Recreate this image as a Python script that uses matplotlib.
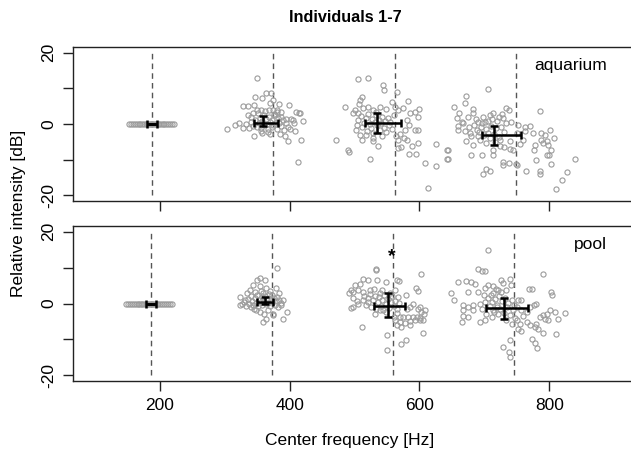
import matplotlib.pyplot as plt
import numpy as np

plt.rcParams['font.family'] = ['Liberation Sans', 'DejaVu Sans']

# ---- aquarium (top panel) ----
aq_harm = [187, 374.5, 562, 749.5]

aq_f1 = [152, 155, 159, 162, 165, 168, 170, 173, 175, 178, 180, 182, 184, 186,
         188, 190, 192, 194, 197, 199, 201, 204, 206, 209, 212, 215, 218, 221]

aq_f2 = [349, 346, 358, 364, 371, 375, 369, 384, 399, 328, 336, 345, 350, 355, 368,
         381, 387, 410, 415, 335, 344, 377, 387, 395, 402, 405, 421, 416, 407, 316,
         304, 328, 345, 358, 367, 385, 393, 397, 418, 413,
         340, 343, 347, 350, 352, 354, 356, 358, 360, 361, 363, 365, 366, 368, 370,
         372, 373, 375, 376, 378, 380, 382, 384, 386, 389, 391, 394, 398, 333, 337,
         341, 351, 362, 374, 370, 380, 355, 400, 408, 322]
aq_db2 = [13.0, 7.5, 7.2, 8.6, 8.6, 6.6, 5.9, 5.6, 5.4, 5.0, 5.0, 5.4, 4.0, 4.0, 4.0,
          4.0, 3.5, 3.5, 3.0, 2.6, 3.1, 2.6, 2.1, 1.4, 1.4, 1.0, 0.8, 3.2, 0.3, -0.4,
          -1.5, -1.1, -3.5, -2.5, -2.2, -2.7, -3.3, -4.7, -4.4, -10.6,
          0.5, -0.5, 1.2, -0.8, 0.2, 1.8, -1.2, 0.9, 2.5, -0.3, 1.4, 0.0, -1.5, 2.0, 0.6,
          -0.9, 1.1, -0.2, 2.8, 0.4, -1.3, 1.6, 0.2, -0.6, 1.0, -1.6, 0.3, -0.8, 0.1, -1.2,
          1.9, 3.0, 3.6, 3.8, -2.9, 3.3, -2.0, -1.5, -1.9, 0.4]

aq_f3 = [505, 520, 544, 546, 566, 511, 508, 485, 507, 500, 497, 513, 521, 529, 539,
         548, 557, 562, 567, 574, 582, 585, 593, 600, 598, 580, 584, 593, 598, 578,
         570, 576, 567, 572, 567, 580, 589, 597, 584, 595, 564, 503, 502, 508, 512,
         529, 536, 528, 524, 490, 491, 471, 608, 625, 625, 642, 644, 613,
         506, 510, 512, 515, 517, 519, 521, 523, 525, 527, 529, 531, 533, 535, 537,
         539, 541, 543, 545, 547, 549, 551, 553, 555, 558, 561, 505, 517, 543, 533]
aq_db3 = [12.6, 12.8, 11.0, 9.6, 9.0, 7.7, 6.8, 4.7, 5.7, 4.0, 3.2, 4.5, 4.9, 4.0, 4.7,
          4.2, 6.3, 4.9, 4.0, 4.5, 6.5, 3.1, 3.5, 4.2, 2.1, 1.2, -0.2, -1.6, -1.8, -1.6,
          -2.7, -3.9, -4.4, -6.4, -6.7, -4.4, -6.1, -5.3, -8.3, -8.3, -3.3, -0.2, -1.6, -3.0, -4.4,
          -3.9, -6.1, -4.8, -9.9, -7.2, -7.9, -4.6, -10.9, -11.8, -5.5, -9.7, -7.4, -17.9,
          1.0, 2.2, -0.8, 0.4, 1.8, -1.9, 2.8, 0.0, -1.0, 1.5, -2.6, 0.6, 2.4, -0.4, 1.2,
          -1.8, 0.2, 2.0, -1.1, 0.9, -2.2, 1.6, -0.3, 0.7, -1.4, 2.6, 3.0, -3.2, -3.5, 3.5]

aq_f4 = [705, 671, 670, 653, 683, 682, 661, 658, 675, 667, 660, 660, 670, 678, 680,
         672, 683, 690, 696, 701, 708, 714, 723, 733, 738, 734, 741, 752, 762, 770,
         775, 787, 793, 801, 807, 785, 787, 796, 798, 791, 778, 777, 780, 800, 797,
         803, 803, 785, 786, 764, 828, 819, 811, 839, 748, 744, 739, 731, 724, 714,
         714, 696, 680, 642, 644, 729, 728, 738, 750, 708, 702, 698, 665, 688, 690,
         703, 706, 724, 740, 755, 759, 762, 750,
         684, 687, 692, 695, 698, 700, 703, 705, 708, 710, 712, 715, 718, 720, 722,
         726, 729, 731, 716, 694, 727, 676]
aq_db4 = [9.8, 7.9, 5.8, 4.7, 4.2, 3.1, 3.1, 1.7, 1.9, 0.3, -0.7, -1.6, -2.1, -2.5, -3.4,
          -4.8, -5.8, 0.7, 0.3, 0.7, 2.6, 3.1, 2.1, 4.5, 4.0, 0.3, 0.5, -0.2, -0.8, -0.7,
          -2.5, -2.5, -3.0, -1.6, -3.9, 3.7, -4.4, -4.8, -5.8, -5.3, -5.8, -7.4, -10.0, -8.6, -8.6,
          -7.4, -11.1, -13.2, -13.9, -13.2, -13.5, -15.7, -18.1, -9.7, -11.1, -7.4, -7.0, -6.5, -6.2, -7.2,
          -8.6, -8.6, -8.6, -7.4, -9.7, -10.7, -11.6, -10.9, -11.4, -13.2, -12.7, -14.0, 0.7, -1.6, -3.4,
          -5.3, -2.5, -4.4, -4.8, -5.5, -4.4, -2.0, -2.5,
          -0.4, 1.5, -2.3, -0.9, 1.9, -3.1, -1.5, 0.9, -4.0, -0.6, 1.3, -2.8, -1.2, 0.8, -3.6,
          -0.9, 1.6, -2.2, -5.0, -4.6, 2.9, -0.9]

aq_mean_f = [187, 359, 535, 715]
aq_mean_db = [0, 0.4, 0.2, -3.0]
aq_f_lo = [179.5, 345, 516, 696]
aq_f_hi = [196, 382, 571, 757]
aq_db_lo = [0, -0.7, -2.5, -6.0]
aq_db_hi = [0, 2.3, 3.1, -0.5]

# ---- pool (bottom panel) ----
pl_harm = [186.5, 373, 559.5, 746]

pl_f1 = [147, 150, 154, 157, 160, 163, 166, 168, 171, 173, 175, 178, 180, 182,
         184, 186, 188, 190, 193, 195, 197, 200, 203, 206, 209, 212, 215, 219]

pl_f2 = [381, 362, 354, 349, 344, 354, 364, 379, 339, 334, 346, 359, 370, 323, 331,
         327, 323, 341, 348, 354, 364, 359, 374, 375, 390, 396, 384, 387, 382, 389,
         372, 380,
         329, 333, 336, 338, 340, 342, 344, 346, 348, 350, 351, 353, 355, 357, 358,
         360, 362, 363, 365, 367, 368, 370, 371, 373, 376, 377, 379, 383, 386, 366,
         356, 345, 361]
pl_db2 = [10.0, 6.5, 7.0, 6.5, 5.1, 4.8, 4.4, 4.4, 3.7, 2.9, 3.2, 2.8, 3.5, 1.8, 0.9,
          -0.2, -0.5, -1.0, -1.7, -2.3, -4.2, -5.1, -2.8, -3.3, -4.2, -2.3, 0.9, 0.2, -1.1, 1.1,
          2.3, 1.8,
          0.3, -0.6, 1.2, 0.0, 2.0, 0.6, -0.4, 1.5, 0.2, 2.4, -0.8, 1.0, 0.3, 1.8, -0.5,
          0.8, 2.1, -0.2, 1.3, 0.1, 2.6, -0.7, 1.0, 0.4, 1.6, -0.4, 0.6, 2.8, -0.5, -1.8,
          3.6, -1.6, -3.0]

pl_f3 = [533, 533, 565, 569, 549, 534, 521, 513, 500, 508, 495, 492, 498, 506, 513,
         524, 530, 542, 539, 562, 567, 594, 598, 602, 579, 497, 503, 506, 513, 521,
         497, 495, 539, 544, 549, 565, 560, 570, 575, 583, 590, 596, 601, 562, 570,
         578, 585, 593, 601, 606, 565, 572, 585, 598, 603, 607, 608, 601, 590, 585,
         580, 511, 550, 550, 572, 579, 606,
         515, 518, 520, 523, 526, 528, 531, 533, 536, 538, 541, 543, 546, 548, 551,
         553, 556, 558, 561, 563, 566, 569, 531, 554]
pl_db3 = [9.3, 9.7, 6.5, 6.3, 6.0, 6.5, 6.5, 6.7, 5.1, 5.4, 3.7, 2.8, 3.2, 3.7, 3.2,
          3.7, 4.1, 3.9, 2.9, 3.7, 1.8, 4.4, 3.5, 8.3, 2.3, 1.6, 0.7, -0.2, 0.9, 0.4,
          -1.0, -1.2, -1.9, -1.9, -2.4, -1.4, -3.8, -3.8, -3.8, -3.8, -3.8, -3.8, -4.0, -4.7, -5.2,
          -5.4, -4.9, -4.7, -4.5, -4.7, -6.1, -6.6, -6.1, -1.4, -2.4, -3.0, -1.9, -1.0, 0.0, -1.0,
          -1.4, -6.6, -8.9, -12.9, -11.2, -10.1, -8.2,
          2.0, -0.5, 1.4, 2.6, -0.9, 1.0, 2.2, -1.5, 0.3, 1.8, -0.8, 0.9, 2.5, -0.2, 1.3,
          -1.3, 0.5, 2.1, -0.6, 0.8, -2.6, 0.2, -3.0, 3.0]

pl_f4 = [705, 690, 696, 701, 672, 680, 685, 660, 648, 653, 675, 690, 701, 706, 714,
         726, 729, 739, 741, 713, 721, 726, 733, 667, 675, 683, 693, 701, 667, 682,
         667, 665, 675, 693, 701, 714, 721, 719, 752, 757, 750, 757, 760, 765, 770,
         776, 780, 750, 755, 752, 757, 765, 770, 778, 783, 780, 744, 747, 743, 786,
         791, 796, 793, 798, 801, 809, 814, 811, 825, 802, 804, 790, 769, 773, 773,
         778, 781, 740, 729, 738, 740, 790, 703, 711,
         705, 708, 710, 712, 715, 717, 720, 722, 724, 727, 730, 732, 735, 737, 739,
         742, 745, 697, 700, 733, 718]
pl_db4 = [14.8, 9.7, 9.0, 9.0, 6.3, 6.0, 5.5, 6.0, 2.9, 0.9, 3.2, 3.2, 4.4, 5.1, 4.8,
          6.5, 5.7, 6.9, 5.1, 2.9, 3.7, 3.2, 3.7, -0.5, -1.0, -0.5, -0.2, 0.4, -1.9, -1.9,
          -3.6, -5.2, -3.8, -5.2, -4.7, -1.9, -2.8, -1.0, 0.9, 1.1, -1.0, -1.9, -3.6, -2.4, -1.0,
          -0.5, 0.0, -4.7, -5.6, -7.0, -7.7, -5.2, -6.1, -6.6, -7.0, -5.6, -1.9, -4.0, -5.6, -3.8,
          -3.3, -2.8, -4.2, -4.7, -1.7, -2.4, -4.2, -8.4, -2.6, 3.2, 2.3, 8.3, 4.1, 4.1, -9.8,
          -11.0, -12.3, -10.1, -12.1, -13.5, -14.9, -8.2, -2.8, -3.8,
          1.6, -0.8, 2.3, 0.4, -2.4, 1.2, -0.3, 2.0, -1.5, 0.6, -2.7, 1.5, -0.9, 0.2, -3.2,
          1.0, -0.4, -1.5, 2.4, -4.5, 4.0]

pl_mean_f = [186, 362, 551, 730]
pl_mean_db = [0, 0.5, -0.7, -1.2]
pl_f_lo = [178, 350, 530, 703]
pl_f_hi = [194, 375, 577, 767]
pl_db_lo = [0, -0.2, -3.7, -4.2]
pl_db_hi = [0, 1.7, 3.0, 1.6]

panels = [
    ('aquarium', aq_harm, aq_f1, [aq_f2, aq_f3, aq_f4], [aq_db2, aq_db3, aq_db4],
     aq_mean_f, aq_mean_db, aq_f_lo, aq_f_hi, aq_db_lo, aq_db_hi),
    ('pool', pl_harm, pl_f1, [pl_f2, pl_f3, pl_f4], [pl_db2, pl_db3, pl_db4],
     pl_mean_f, pl_mean_db, pl_f_lo, pl_f_hi, pl_db_lo, pl_db_hi),
]

W, H = 631, 455
fig = plt.figure(figsize=(W / 100, H / 100), dpi=100)
boxes = [(47, 201), (226, 381)]
grey = '#9b9b9b'

for i, (label, harm, f1, fs, dbs, mf, mdb, flo, fhi, dlo, dhi) in enumerate(panels):
    top, bot = boxes[i]
    ax = fig.add_axes([73 / W, 1 - bot / H, 1 - 73 / W, (bot - top) / H])
    ax.spines['right'].set_visible(False)
    for s in ['left', 'top', 'bottom']:
        ax.spines[s].set_linewidth(1.0)
        ax.spines[s].set_color('#222222')

    ax.vlines(harm, -20, 20, colors='#555555', linestyles=(0, (4, 3)), linewidth=1.0)

    ax.plot(f1, np.zeros(len(f1)), 'o', ms=3.7, mfc='none', mec=grey, mew=0.8)
    for f, db in zip(fs, dbs):
        ax.plot(f, db, 'o', ms=3.7, mfc='none', mec=grey, mew=0.8)

    mf = np.array(mf)
    mdb = np.array(mdb)
    xerr = [mf - np.array(flo), np.array(fhi) - mf]
    yerr = [mdb - np.array(dlo), np.array(dhi) - mdb]
    ax.errorbar(mf, mdb, xerr=xerr, yerr=yerr, fmt='none', ecolor='black',
                elinewidth=1.8, capsize=3.2, capthick=1.8, zorder=5)

    ax.set_xlim(66, 926)
    ax.set_ylim(-21.6, 21.6)
    ax.set_yticks([-20, -10, 0, 10, 20])
    ax.set_yticklabels(['-20', '', '0', '', '20'], rotation=90, va='center')
    ax.set_xticks([200, 400, 600, 800])
    if i == 0:
        ax.set_xticklabels([])
    ax.tick_params(direction='out', length=7, width=1.0, labelsize=12.5, pad=5,
                   colors='#222222', labelcolor='black')

    ax.text(889, 16.4, label, ha='right', va='center', fontsize=12.5)
    if i == 1:
        ax.text(558, 13.0, '*', ha='center', va='center', fontsize=14,
                fontweight='bold')

fig.text(345 / W, 1 - 18 / H, 'Individuals 1-7', ha='center', va='center',
         fontsize=11.7, fontweight='bold')
fig.text(18.5 / W, 1 - 213.5 / H, 'Relative intensity [dB]', rotation=90,
         ha='center', va='center', fontsize=12.5)
fig.text(350 / W, 1 - 440 / H, 'Center frequency [Hz]', ha='center', va='center',
         fontsize=12.5)

fig.savefig('out.png', dpi=100)
